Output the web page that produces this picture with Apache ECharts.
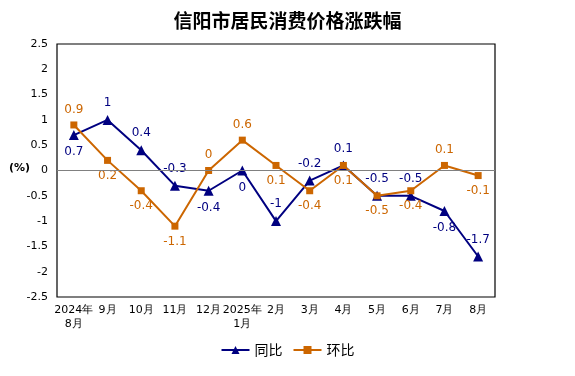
<!DOCTYPE html>
<html>
<head>
<meta charset="utf-8">
<script src="https://cdn.jsdelivr.net/npm/echarts@6/dist/echarts.min.js"></script>
<style>
  html, body { margin: 0; padding: 0; background: #fff; }
  #chart { width: 575px; height: 376px; }
</style>
</head>
<body>
<div id="chart"></div>
<script>
// 月份
const months = ['2024年\n8月', '9月', '10月', '11月', '12月', '2025年\n1月', '2月', '3月', '4月', '5月', '6月', '7月', '8月'];
// 同比
const yoy = [0.7, 1, 0.4, -0.3, -0.4, 0, -1, -0.2, 0.1, -0.5, -0.5, -0.8, -1.7];
// 环比
const mom = [0.9, 0.2, -0.4, -1.1, 0, 0.6, 0.1, -0.4, 0.1, -0.5, -0.4, 0.1, -0.1];

// 标签位置
const yoyPos = ['bottom', 'top', 'top', 'top', 'bottom', 'bottom', 'top', 'top', 'top', 'top', 'top', 'bottom', 'top'];
const momPos = ['top', 'bottom', 'bottom', 'bottom', 'top', 'top', 'bottom', 'bottom', 'bottom', 'bottom', 'bottom', 'top', 'bottom'];

const blue = '#000080';
const orange = '#CC6600';
const font = 'DejaVu Sans';

let myChart = echarts.init(document.getElementById('chart'));

let toData = (vals, pos) => vals.map((v, i) => ({
  value: v,
  label: {position: pos[i]}
}));

let option = {
  animation: false,
  title: {
    text: '信阳市居民消费价格涨跌幅',
    left: 'center', top: 6,
    textStyle: {fontSize: 19, fontWeight: 'bold', color: '#000', fontFamily: 'Noto Sans CJK SC'}
  },
  graphic: [{
    type: 'text', left: 9, top: 163,
    style: {text: '(%)', fontSize: 11, fontWeight: 'bold', fontFamily: font, fill: '#000'}
  }],
  legend: {
    bottom: 14, left: 'center',
    itemWidth: 28, itemHeight: 10, itemGap: 10,
    textStyle: {fontSize: 14, color: '#000', fontFamily: 'Noto Sans CJK SC'},
    data: ['同比', '环比']
  },
  grid: {
    left: 57, right: 80, top: 44, bottom: 79,
    show: true, borderColor: '#000', borderWidth: 1.2
  },
  xAxis: {
    type: 'category',
    data: months,
    boundaryGap: true,
    axisLine: {show: false},
    axisTick: {show: false},
    axisLabel: {
      color: '#000', fontSize: 11, fontFamily: font, margin: 6,
      lineHeight: 14, interval: 0
    }
  },
  yAxis: {
    type: 'value',
    min: -2.5, max: 2.5, interval: 0.5,
    axisLine: {show: false},
    axisTick: {show: false},
    splitLine: {show: false},
    axisLabel: {color: '#000', fontSize: 11, fontFamily: font, margin: 9}
  },
  series: [{
    name: '同比',
    type: 'line',
    data: toData(yoy, yoyPos),
    symbol: 'triangle', symbolSize: 10,
    itemStyle: {color: blue},
    lineStyle: {color: blue, width: 2},
    label: {show: true, color: blue, fontSize: 12, fontFamily: font, distance: 6},
    markLine: {
      silent: true, symbol: 'none', label: {show: false},
      lineStyle: {color: '#808080', type: 'solid', width: 1.2},
      data: [{yAxis: 0}]
    },
    z: 3
  }, {
    name: '环比',
    type: 'line',
    data: toData(mom, momPos),
    symbol: 'rect', symbolSize: 7,
    itemStyle: {color: orange},
    lineStyle: {color: orange, width: 2},
    label: {show: true, color: orange, fontSize: 12, fontFamily: font, distance: 6},
    z: 4
  }]
};
myChart.setOption(option);
</script>
</body>
</html>
